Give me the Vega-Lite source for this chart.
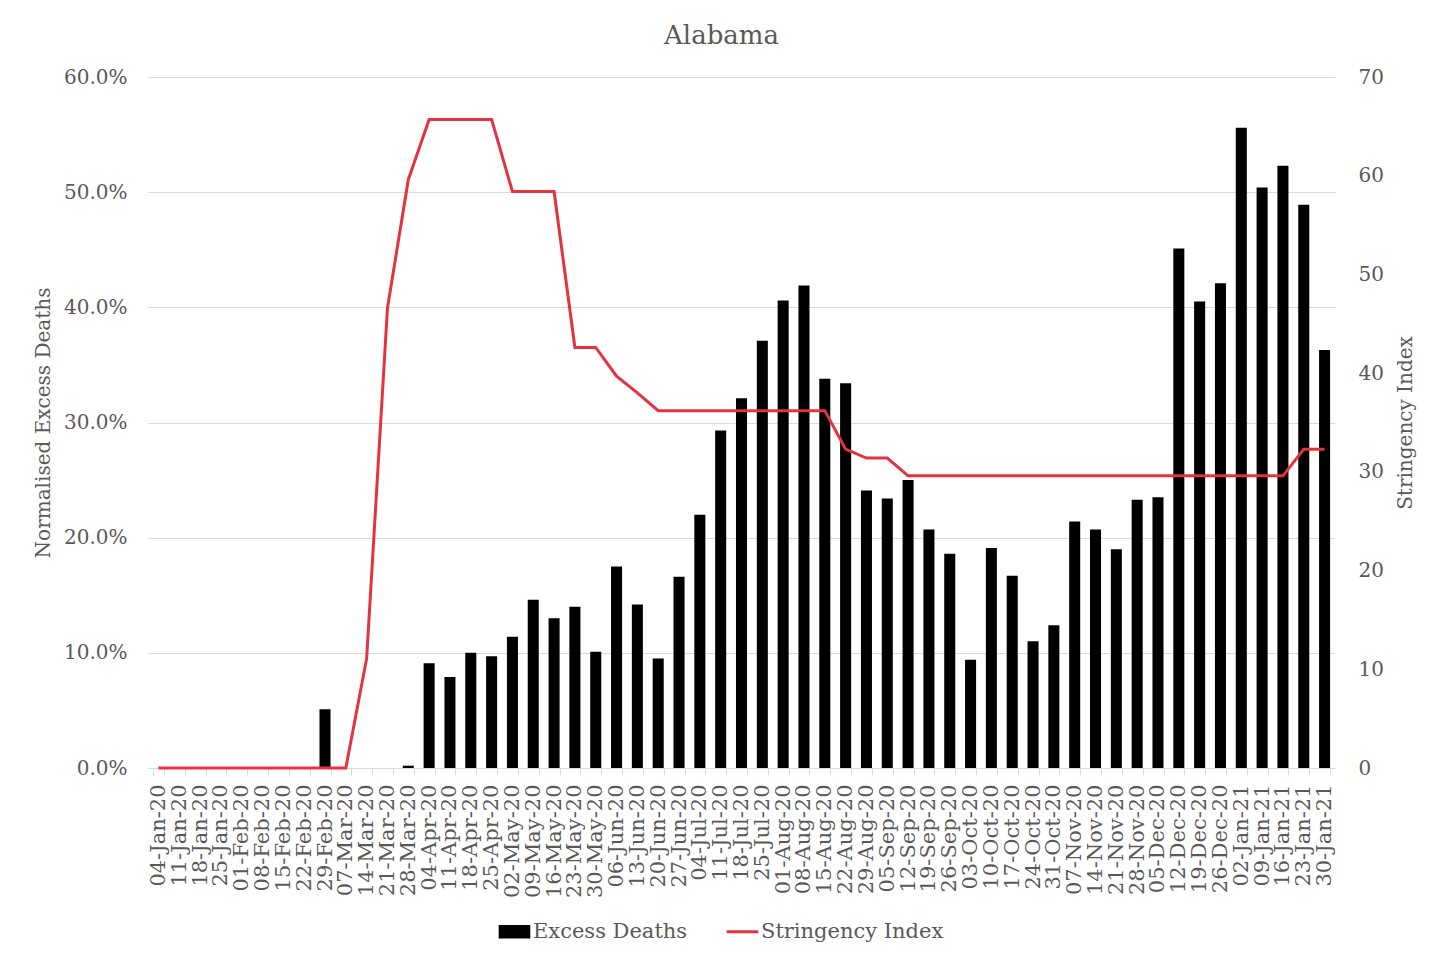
{
  "$schema": "https://vega.github.io/schema/vega-lite/v6.json",
  "width": 1187,
  "height": 691,
  "autosize": {"type": "none"},
  "padding": {"left": 148, "top": 77, "right": 113, "bottom": 186},
  "background": "white",
  "config": {
    "font": "DejaVu Serif",
    "view": {"stroke": null},
    "axis": {"labelColor": "#595959", "titleColor": "#595959", "titleFontWeight": "normal", "labelFontSize": 20, "titleFontSize": 20},
    "legend": {"labelColor": "#595959", "labelFontSize": 21}
  },
  "title": {"text": "Alabama", "fontSize": 26, "fontWeight": "normal", "color": "#595959", "offset": 18, "dx": -20},
  "data": {
    "values": [
      {"week": "04-Jan-20", "excess": 0, "stringency": 0},
      {"week": "11-Jan-20", "excess": 0, "stringency": 0},
      {"week": "18-Jan-20", "excess": 0, "stringency": 0},
      {"week": "25-Jan-20", "excess": 0, "stringency": 0},
      {"week": "01-Feb-20", "excess": 0, "stringency": 0},
      {"week": "08-Feb-20", "excess": 0, "stringency": 0},
      {"week": "15-Feb-20", "excess": 0, "stringency": 0},
      {"week": "22-Feb-20", "excess": 0, "stringency": 0},
      {"week": "29-Feb-20", "excess": 0.051, "stringency": 0},
      {"week": "07-Mar-20", "excess": 0, "stringency": 0},
      {"week": "14-Mar-20", "excess": 0, "stringency": 11.1},
      {"week": "21-Mar-20", "excess": 0, "stringency": 46.6},
      {"week": "28-Mar-20", "excess": 0.002, "stringency": 59.6},
      {"week": "04-Apr-20", "excess": 0.091, "stringency": 65.7},
      {"week": "11-Apr-20", "excess": 0.079, "stringency": 65.7},
      {"week": "18-Apr-20", "excess": 0.100, "stringency": 65.7},
      {"week": "25-Apr-20", "excess": 0.097, "stringency": 65.7},
      {"week": "02-May-20", "excess": 0.114, "stringency": 58.4},
      {"week": "09-May-20", "excess": 0.146, "stringency": 58.4},
      {"week": "16-May-20", "excess": 0.130, "stringency": 58.4},
      {"week": "23-May-20", "excess": 0.140, "stringency": 42.6},
      {"week": "30-May-20", "excess": 0.101, "stringency": 42.6},
      {"week": "06-Jun-20", "excess": 0.175, "stringency": 39.7},
      {"week": "13-Jun-20", "excess": 0.142, "stringency": 38.0},
      {"week": "20-Jun-20", "excess": 0.095, "stringency": 36.2},
      {"week": "27-Jun-20", "excess": 0.166, "stringency": 36.2},
      {"week": "04-Jul-20", "excess": 0.220, "stringency": 36.2},
      {"week": "11-Jul-20", "excess": 0.293, "stringency": 36.2},
      {"week": "18-Jul-20", "excess": 0.321, "stringency": 36.2},
      {"week": "25-Jul-20", "excess": 0.371, "stringency": 36.2},
      {"week": "01-Aug-20", "excess": 0.406, "stringency": 36.2},
      {"week": "08-Aug-20", "excess": 0.419, "stringency": 36.2},
      {"week": "15-Aug-20", "excess": 0.338, "stringency": 36.2},
      {"week": "22-Aug-20", "excess": 0.334, "stringency": 32.3},
      {"week": "29-Aug-20", "excess": 0.241, "stringency": 31.4},
      {"week": "05-Sep-20", "excess": 0.234, "stringency": 31.4},
      {"week": "12-Sep-20", "excess": 0.250, "stringency": 29.6},
      {"week": "19-Sep-20", "excess": 0.207, "stringency": 29.6},
      {"week": "26-Sep-20", "excess": 0.186, "stringency": 29.6},
      {"week": "03-Oct-20", "excess": 0.094, "stringency": 29.6},
      {"week": "10-Oct-20", "excess": 0.191, "stringency": 29.6},
      {"week": "17-Oct-20", "excess": 0.167, "stringency": 29.6},
      {"week": "24-Oct-20", "excess": 0.110, "stringency": 29.6},
      {"week": "31-Oct-20", "excess": 0.124, "stringency": 29.6},
      {"week": "07-Nov-20", "excess": 0.214, "stringency": 29.6},
      {"week": "14-Nov-20", "excess": 0.207, "stringency": 29.6},
      {"week": "21-Nov-20", "excess": 0.190, "stringency": 29.6},
      {"week": "28-Nov-20", "excess": 0.233, "stringency": 29.6},
      {"week": "05-Dec-20", "excess": 0.235, "stringency": 29.6},
      {"week": "12-Dec-20", "excess": 0.451, "stringency": 29.6},
      {"week": "19-Dec-20", "excess": 0.405, "stringency": 29.6},
      {"week": "26-Dec-20", "excess": 0.421, "stringency": 29.6},
      {"week": "02-Jan-21", "excess": 0.556, "stringency": 29.6},
      {"week": "09-Jan-21", "excess": 0.504, "stringency": 29.6},
      {"week": "16-Jan-21", "excess": 0.523, "stringency": 29.6},
      {"week": "23-Jan-21", "excess": 0.489, "stringency": 32.3},
      {"week": "30-Jan-21", "excess": 0.363, "stringency": 32.3}
    ]
  },
  "encoding": {
    "x": {
      "field": "week",
      "type": "nominal",
      "sort": null,
      "scale": {"paddingInner": 0.47, "paddingOuter": 0.235},
      "axis": {
        "title": null,
        "labelAngle": -90,
        "labelFontSize": 21,
        "labelOverlap": false,
        "tickBand": "extent",
        "domainColor": "#d9d9d9",
        "tickColor": "#d9d9d9",
        "tickSize": 7,
        "labelPadding": 9,
        "grid": false
      }
    }
  },
  "layer": [
    {
      "mark": {"type": "bar"},
      "encoding": {
        "y": {
          "field": "excess",
          "type": "quantitative",
          "scale": {"domain": [0, 0.6], "nice": false},
          "axis": {
            "title": "Normalised Excess Deaths",
            "format": ".1%",
            "values": [0, 0.1, 0.2, 0.3, 0.4, 0.5, 0.6],
            "grid": true,
            "gridColor": "#d9d9d9",
            "domain": false,
            "ticks": false,
            "labelPadding": 21,
            "titlePadding": 10
          }
        },
        "color": {
          "datum": "Excess Deaths",
          "type": "nominal",
          "scale": {"domain": ["Excess Deaths", "Stringency Index"], "range": ["black", "#e5323f"]},
          "legend": {
            "title": null,
            "orient": "none",
            "direction": "horizontal",
            "legendX": 356,
            "legendY": 844,
            "symbolSize": 1000,
            "labelOffset": 8,
            "labelLimit": 400,
            "columnPadding": 32,
            "encode": {
              "symbols": {
                "update": {
                  "shape": {"signal": "datum.value === 'Excess Deaths' ? 'M-1,-0.42H1V0.42H-1Z' : 'M-1,0H1'"},
                  "fill": {"signal": "datum.value === 'Excess Deaths' ? 'black' : 'transparent'"},
                  "stroke": {"signal": "datum.value === 'Excess Deaths' ? 'black' : '#e5323f'"},
                  "strokeWidth": {"signal": "datum.value === 'Excess Deaths' ? 0 : 3"},
                  "opacity": {"value": 1}
                }
              }
            }
          }
        }
      }
    },
    {
      "mark": {"type": "line", "strokeWidth": 3},
      "encoding": {
        "y": {
          "field": "stringency",
          "type": "quantitative",
          "scale": {"domain": [0, 70], "nice": false},
          "axis": {
            "orient": "right",
            "title": "Stringency Index",
            "titleAngle": 270,
            "values": [0, 10, 20, 30, 40, 50, 60, 70],
            "grid": false,
            "domain": false,
            "ticks": false,
            "labelPadding": 23,
            "titlePadding": 32
          }
        },
        "color": {"datum": "Stringency Index", "type": "nominal"}
      }
    }
  ],
  "resolve": {"scale": {"y": "independent"}}
}
